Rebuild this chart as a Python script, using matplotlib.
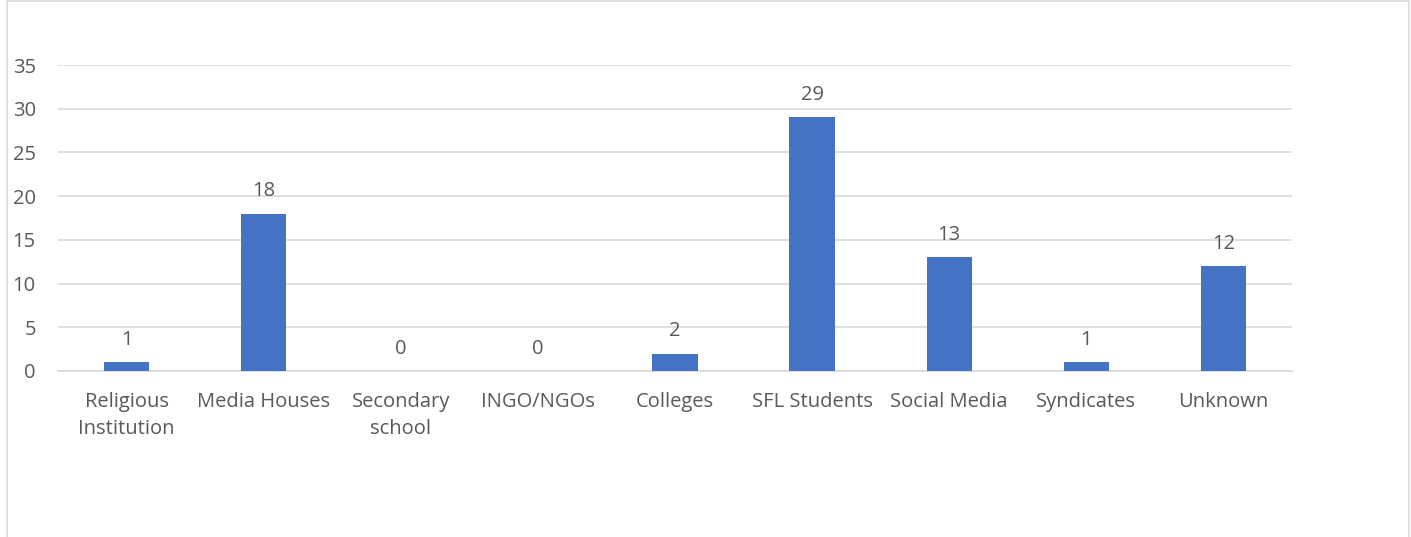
import matplotlib.pyplot as plt
from matplotlib.patches import Rectangle

categories = ["Religious\nInstitution", "Media Houses", "Secondary\nschool", "INGO/NGOs",
              "Colleges", "SFL Students", "Social Media", "Syndicates", "Unknown"]
values = [1, 18, 0, 0, 2, 29, 13, 1, 12]
yticks = [0, 5, 10, 15, 20, 25, 30, 35]

plt.rcParams['font.family'] = ['Open Sans', 'DejaVu Sans']
txt = "#595959"
grid = "#D9D9D9"

fig = plt.figure(figsize=(14.11, 5.37), dpi=100)
# outer chart border
fig.patches.append(Rectangle((7/1411, -0.01), 1402/1411, 1.0 - 1/537 + 0.01, transform=fig.transFigure,
                             fill=False, edgecolor=grid, linewidth=1.2))

ax = fig.add_axes([58/1411, 1-371/537, 1234/1411, 306/537])
x = range(len(categories))
ax.bar(x, values, width=0.33, color="#4472C4", zorder=3)
ax.set_xlim(-0.5, len(categories) - 0.5)
ax.set_ylim(0, 35)
ax.set_yticks(yticks)
ax.set_xticks(list(x))
ax.set_xticklabels(categories, fontsize=14.5, color=txt, linespacing=1.45)
ax.tick_params(axis="y", labelsize=14.5, labelcolor=txt, length=0, pad=16)
ax.tick_params(axis="x", length=0, pad=15)
for s in ["top", "right", "left"]:
    ax.spines[s].set_visible(False)
ax.spines["bottom"].set_color(grid)
ax.spines["bottom"].set_linewidth(1.2)
ax.grid(axis="y", color=grid, linewidth=1.2, zorder=0)
ax.set_axisbelow(True)

for i, v in enumerate(values):
    ax.annotate(str(v), (i, v), xytext=(0, 9), textcoords="offset points",
                ha="center", va="bottom", fontsize=14.5, color=txt)

fig.savefig("out.png", dpi=100)
